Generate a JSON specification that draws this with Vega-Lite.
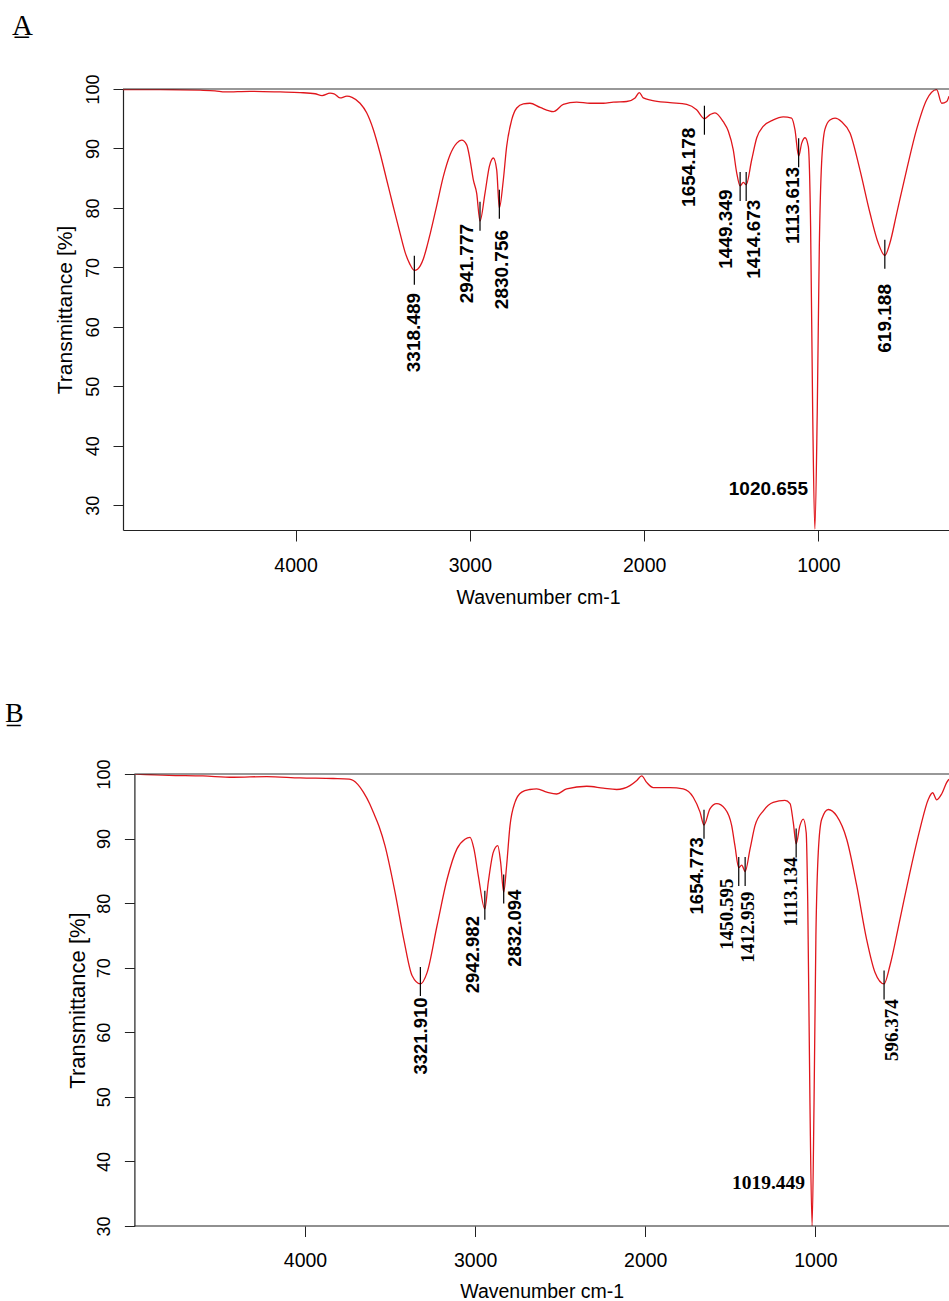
{
  "$schema": "https://vega.github.io/schema/vega-lite/v6.json",
  "autosize": {"type": "none"},
  "padding": {"left": 123, "top": 89, "right": 830, "bottom": 1215},
  "background": "white",
  "config": {
    "view": {"stroke": null},
    "font": "Liberation Sans",
    "axis": {"grid": false, "domainColor": "#222", "domainWidth": 1.2, "tickColor": "#222", "tickWidth": 1, "labelColor": "black", "titleColor": "black", "titleFontWeight": "normal", "labelOverlap": false, "labelFlush": false}
  },
  "datasets": {
    "specA": [
      {"wn": 4990, "T": 99.9}, {"wn": 4777, "T": 99.9}, {"wn": 4548, "T": 99.8}, {"wn": 4462, "T": 99.7}, {"wn": 4404, "T": 99.5},
      {"wn": 4261, "T": 99.6}, {"wn": 4089, "T": 99.5}, {"wn": 3974, "T": 99.4}, {"wn": 3888, "T": 99.2}, {"wn": 3848, "T": 98.9},
      {"wn": 3802, "T": 99.3}, {"wn": 3779, "T": 99.2}, {"wn": 3745, "T": 98.5}, {"wn": 3705, "T": 98.8}, {"wn": 3676, "T": 98.6},
      {"wn": 3630, "T": 97.6}, {"wn": 3592, "T": 96.0}, {"wn": 3554, "T": 93.2}, {"wn": 3515, "T": 89.2}, {"wn": 3477, "T": 84.7},
      {"wn": 3439, "T": 80.2}, {"wn": 3401, "T": 75.8}, {"wn": 3370, "T": 72.4}, {"wn": 3345, "T": 70.6}, {"wn": 3318.5, "T": 69.5},
      {"wn": 3300, "T": 69.7}, {"wn": 3284, "T": 70.3}, {"wn": 3266, "T": 71.5}, {"wn": 3248, "T": 73.3}, {"wn": 3228, "T": 75.6},
      {"wn": 3190, "T": 80.4}, {"wn": 3152, "T": 85.3},
      {"wn": 3114, "T": 88.9}, {"wn": 3075, "T": 90.9}, {"wn": 3047, "T": 91.4}, {"wn": 3018, "T": 90.6}, {"wn": 2999, "T": 88.1},
      {"wn": 2980, "T": 84.7}, {"wn": 2961, "T": 82.5}, {"wn": 2941.8, "T": 77.8}, {"wn": 2913, "T": 82.5}, {"wn": 2888, "T": 87.0},
      {"wn": 2865, "T": 88.4}, {"wn": 2846, "T": 86.4}, {"wn": 2830.8, "T": 80.0}, {"wn": 2808, "T": 84.7}, {"wn": 2789, "T": 90.3},
      {"wn": 2760, "T": 94.8}, {"wn": 2731, "T": 96.8}, {"wn": 2693, "T": 97.5}, {"wn": 2655, "T": 97.6}, {"wn": 2597, "T": 96.9},
      {"wn": 2521, "T": 96.2}, {"wn": 2464, "T": 97.4}, {"wn": 2387, "T": 97.8}, {"wn": 2311, "T": 97.6}, {"wn": 2234, "T": 97.6},
      {"wn": 2177, "T": 97.8}, {"wn": 2100, "T": 97.9}, {"wn": 2052, "T": 98.5}, {"wn": 2028, "T": 99.4}, {"wn": 2005, "T": 98.5},
      {"wn": 1957, "T": 98.1}, {"wn": 1852, "T": 97.7}, {"wn": 1756, "T": 97.4}, {"wn": 1699, "T": 96.5}, {"wn": 1654.2, "T": 95.0},
      {"wn": 1622, "T": 95.7}, {"wn": 1594, "T": 96.0}, {"wn": 1546, "T": 94.5}, {"wn": 1517, "T": 92.9}, {"wn": 1489, "T": 89.8},
      {"wn": 1469, "T": 85.9}, {"wn": 1449.3, "T": 83.7}, {"wn": 1431, "T": 84.3}, {"wn": 1414.7, "T": 83.9}, {"wn": 1383, "T": 88.1},
      {"wn": 1354, "T": 91.8}, {"wn": 1317, "T": 93.7}, {"wn": 1259, "T": 94.8}, {"wn": 1202, "T": 95.3}, {"wn": 1154, "T": 95.1},
      {"wn": 1135, "T": 93.2}, {"wn": 1113.6, "T": 88.7}, {"wn": 1096, "T": 90.9}, {"wn": 1077, "T": 91.8}, {"wn": 1058, "T": 90.3},
      {"wn": 1045, "T": 76.9}, {"wn": 1033, "T": 45.5}, {"wn": 1020.7, "T": 26.0}, {"wn": 1007, "T": 45.5}, {"wn": 995, "T": 73.5},
      {"wn": 982, "T": 87.5}, {"wn": 963, "T": 93.2}, {"wn": 934, "T": 94.8}, {"wn": 905, "T": 95.1}, {"wn": 867, "T": 94.5},
      {"wn": 819, "T": 92.6}, {"wn": 762, "T": 86.4}, {"wn": 704, "T": 79.1}, {"wn": 657, "T": 74.1}, {"wn": 619.2, "T": 72.0},
      {"wn": 590, "T": 74.1}, {"wn": 551, "T": 79.1}, {"wn": 494, "T": 86.4}, {"wn": 437, "T": 93.2}, {"wn": 379, "T": 98.2},
      {"wn": 322, "T": 99.9}, {"wn": 293, "T": 97.6}, {"wn": 264, "T": 97.9}, {"wn": 251, "T": 98.8}
    ],
    "specB": [
      {"wn": 5000, "T": 100.0}, {"wn": 4800, "T": 99.8}, {"wn": 4600, "T": 99.7}, {"wn": 4423, "T": 99.5}, {"wn": 4225, "T": 99.6},
      {"wn": 4029, "T": 99.4}, {"wn": 3834, "T": 99.3}, {"wn": 3740, "T": 99.2}, {"wn": 3716, "T": 99.0}, {"wn": 3690, "T": 98.4},
      {"wn": 3657, "T": 97.2}, {"wn": 3620, "T": 95.4}, {"wn": 3599, "T": 94.1}, {"wn": 3565, "T": 91.9},
      {"wn": 3530, "T": 88.9}, {"wn": 3471, "T": 81.7}, {"wn": 3418, "T": 74.2}, {"wn": 3371, "T": 68.8},
      {"wn": 3321.9, "T": 67.5}, {"wn": 3283, "T": 69.2}, {"wn": 3224, "T": 76.5}, {"wn": 3165, "T": 83.7}, {"wn": 3107, "T": 88.4},
      {"wn": 3060, "T": 89.9}, {"wn": 3030, "T": 90.2}, {"wn": 3007, "T": 88.4}, {"wn": 2981, "T": 84.2}, {"wn": 2943.0, "T": 79.1},
      {"wn": 2923, "T": 83.2}, {"wn": 2893, "T": 87.9}, {"wn": 2867, "T": 88.9}, {"wn": 2850, "T": 86.3}, {"wn": 2832.1, "T": 81.7},
      {"wn": 2815, "T": 85.8}, {"wn": 2795, "T": 92.0}, {"wn": 2766, "T": 95.6}, {"wn": 2726, "T": 97.2}, {"wn": 2678, "T": 97.6},
      {"wn": 2638, "T": 97.7}, {"wn": 2579, "T": 97.2}, {"wn": 2521, "T": 96.9}, {"wn": 2462, "T": 97.7}, {"wn": 2344, "T": 98.1},
      {"wn": 2247, "T": 97.8}, {"wn": 2168, "T": 97.6}, {"wn": 2090, "T": 98.2}, {"wn": 2050, "T": 99.0}, {"wn": 2021, "T": 99.7},
      {"wn": 1992, "T": 98.7}, {"wn": 1953, "T": 97.9}, {"wn": 1855, "T": 97.9}, {"wn": 1777, "T": 97.7}, {"wn": 1718, "T": 96.4},
      {"wn": 1678, "T": 94.1}, {"wn": 1654.8, "T": 92.1}, {"wn": 1620, "T": 94.6}, {"wn": 1580, "T": 95.4}, {"wn": 1531, "T": 94.6},
      {"wn": 1492, "T": 92.0}, {"wn": 1473, "T": 88.9}, {"wn": 1450.6, "T": 85.5}, {"wn": 1433, "T": 85.9}, {"wn": 1413.0, "T": 84.9},
      {"wn": 1384, "T": 88.4}, {"wn": 1355, "T": 92.0}, {"wn": 1306, "T": 94.3}, {"wn": 1248, "T": 95.6}, {"wn": 1179, "T": 95.9},
      {"wn": 1149, "T": 95.4}, {"wn": 1130, "T": 92.5}, {"wn": 1113.1, "T": 89.2}, {"wn": 1091, "T": 92.0}, {"wn": 1071, "T": 93.0},
      {"wn": 1054, "T": 90.9}, {"wn": 1045, "T": 80.1}, {"wn": 1032, "T": 49.1}, {"wn": 1019.4, "T": 30.0}, {"wn": 1008, "T": 49.1},
      {"wn": 997, "T": 74.9}, {"wn": 983, "T": 87.9}, {"wn": 963, "T": 93.0}, {"wn": 924, "T": 94.5}, {"wn": 875, "T": 93.5},
      {"wn": 816, "T": 89.9}, {"wn": 757, "T": 82.7}, {"wn": 699, "T": 74.4}, {"wn": 650, "T": 69.3}, {"wn": 596.4, "T": 67.5},
      {"wn": 562, "T": 70.3}, {"wn": 503, "T": 77.5}, {"wn": 444, "T": 84.8}, {"wn": 385, "T": 91.5}, {"wn": 336, "T": 96.1},
      {"wn": 311, "T": 97.1}, {"wn": 287, "T": 96.0}, {"wn": 258, "T": 96.9}, {"wn": 228, "T": 98.7}, {"wn": 215, "T": 99.2}
    ],
    "peaksA": [
      {"wn": 3318.489, "mT": 69.5, "label": "3318.489", "lx": 3318.5, "ly": 65.7},
      {"wn": 2941.777, "mT": 78.6, "label": "2941.777", "lx": 3017.5, "ly": 77.3},
      {"wn": 2830.756, "mT": 80.6, "label": "2830.756", "lx": 2818, "ly": 76.3},
      {"wn": 1654.178, "mT": 94.75, "label": "1654.178", "lx": 1740, "ly": 93.5},
      {"wn": 1449.349, "mT": 83.6, "label": "1449.349", "lx": 1531, "ly": 83.1},
      {"wn": 1414.673, "mT": 83.6, "label": "1414.673", "lx": 1372, "ly": 81.4},
      {"wn": 1113.613, "mT": 89.3, "label": "1113.613", "lx": 1144, "ly": 86.9},
      {"wn": 619.188, "mT": 72.2, "label": "619.188", "lx": 619.2, "ly": 67.2}
    ],
    "bigA": [{"label": "1020.655", "lx": 1060, "ly": 31.7}],
    "peaksBsans": [
      {"wn": 3321.910, "mT": 67.85, "label": "3321.910", "lx": 3318, "ly": 65.4},
      {"wn": 2942.982, "mT": 79.67, "label": "2942.982", "lx": 3012, "ly": 78.0},
      {"wn": 2832.094, "mT": 82.2, "label": "2832.094", "lx": 2765, "ly": 82.1},
      {"wn": 1654.773, "mT": 92.2, "label": "1654.773", "lx": 1693, "ly": 90.2}
    ],
    "peaksBserif": [
      {"wn": 1450.595, "mT": 84.9, "label": "1450.595", "lx": 1519, "ly": 83.8},
      {"wn": 1412.959, "mT": 84.9, "label": "1412.959", "lx": 1398, "ly": 81.8},
      {"wn": 1113.134, "mT": 89.3, "label": "1113.134", "lx": 1144, "ly": 87.1},
      {"wn": 596.374, "mT": 67.33, "label": "596.374", "lx": 551, "ly": 65.1}
    ],
    "bigB": [{"label": "1019.449", "lx": 1061, "ly": 35.8}]
  },
  "spacing": 93,
  "vconcat": [
    {
      "width": 826,
      "height": 441,
      "title": {"text": "A\u0332", "font": "Liberation Serif", "fontSize": 29, "fontWeight": "normal", "color": "black", "anchor": "start", "frame": "group", "dx": -111, "offset": 10, "baseline": "alphabetic"},
      "layer": [
        {
          "data": {"name": "specA"},
          "mark": {"type": "line", "color": "#e0161c", "strokeWidth": 1.3, "clip": true, "interpolate": "monotone"},
          "encoding": {
            "x": {"field": "wn", "type": "quantitative", "scale": {"domain": [4990, 251], "nice": false, "zero": false},
              "axis": {"title": "Wavenumber cm-1", "values": [4000, 3000, 2000, 1000], "format": "d", "tickSize": 11, "labelFont": "Liberation Sans", "labelFontSize": 19.5, "labelBaseline": "alphabetic", "labelPadding": 30.7, "titleFont": "Liberation Sans", "titleFontSize": 19.5, "titleBaseline": "alphabetic", "titleX": 415, "titleY": 73.3}},
            "y": {"field": "T", "type": "quantitative", "scale": {"domain": [25.84, 100], "nice": false, "zero": false},
              "axis": {"title": "Transmittance [%]", "values": [30, 40, 50, 60, 70, 80, 90, 100], "tickSize": 10, "labelAngle": -90, "labelAlign": "center", "labelBaseline": "alphabetic", "labelFontSize": 18, "labelPadding": 14.3, "titleFontSize": 21, "titleAngle": -90, "titleAlign": "center", "titleBaseline": "alphabetic", "titleX": -51.3, "titleY": 220.5}}
          }
        },
        {
          "data": {"values": [{}]},
          "mark": {"type": "rule", "color": "#333", "strokeWidth": 1.2},
          "encoding": {"y": {"datum": 100}}
        },
        {
          "data": {"name": "peaksA"},
          "mark": {"type": "tick", "orient": "vertical", "size": 29, "thickness": 1.2, "color": "black", "opacity": 1},
          "encoding": {"x": {"field": "wn", "type": "quantitative"}, "y": {"field": "mT", "type": "quantitative"}}
        },
        {
          "data": {"name": "peaksA"},
          "mark": {"type": "text", "angle": -90, "align": "right", "baseline": "middle", "font": "Liberation Sans", "fontWeight": "bold", "fontSize": 19, "color": "black"},
          "encoding": {"x": {"field": "lx", "type": "quantitative"}, "y": {"field": "ly", "type": "quantitative"}, "text": {"field": "label"}}
        },
        {
          "data": {"name": "bigA"},
          "mark": {"type": "text", "align": "right", "baseline": "alphabetic", "font": "Liberation Sans", "fontWeight": "bold", "fontSize": 19, "color": "black"},
          "encoding": {"x": {"field": "lx", "type": "quantitative"}, "y": {"field": "ly", "type": "quantitative"}, "text": {"field": "label"}}
        }
      ]
    },
    {
      "width": 826,
      "height": 452,
      "title": {"text": "B\u0332", "font": "Liberation Serif", "fontSize": 28, "fontWeight": "normal", "color": "black", "anchor": "start", "frame": "group", "dx": -118, "offset": 8.5, "baseline": "alphabetic"},
      "layer": [
        {
          "data": {"name": "specB"},
          "mark": {"type": "line", "color": "#e0161c", "strokeWidth": 1.3, "clip": true, "interpolate": "monotone"},
          "encoding": {
            "x": {"field": "wn", "type": "quantitative", "scale": {"domain": [5069.8, 214.7], "nice": false, "zero": false},
              "axis": {"title": "Wavenumber cm-1", "values": [4000, 3000, 2000, 1000], "format": "d", "domain": false, "tickSize": 10.5, "labelFont": "Liberation Sans", "labelFontSize": 19.5, "labelBaseline": "alphabetic", "labelPadding": 29.5, "titleFont": "Liberation Sans", "titleFontSize": 19.5, "titleBaseline": "alphabetic", "titleX": 418.7, "titleY": 71.6}},
            "y": {"field": "T", "type": "quantitative", "scale": {"domain": [30, 100], "nice": false, "zero": false},
              "axis": {"title": "Transmittance [%]", "offset": -11.4, "values": [30, 40, 50, 60, 70, 80, 90, 100], "tickSize": 10, "labelAngle": -90, "labelAlign": "center", "labelBaseline": "alphabetic", "labelFontSize": 18, "labelPadding": 14.4, "titleFontSize": 22, "titleAngle": -90, "titleAlign": "center", "titleBaseline": "alphabetic", "titleX": -49.4, "titleY": 226}}
          }
        },
        {
          "data": {"values": [{}]},
          "mark": {"type": "rule", "color": "#333", "strokeWidth": 1.2},
          "encoding": {"x": {"datum": 5003}, "x2": {"datum": 200}, "y": {"datum": 100}}
        },
        {
          "data": {"values": [{}]},
          "mark": {"type": "rule", "color": "#222", "strokeWidth": 1.2},
          "encoding": {"x": {"datum": 5003}, "x2": {"datum": 200}, "y": {"datum": 30}}
        },
        {
          "data": {"name": "peaksBsans"},
          "mark": {"type": "tick", "orient": "vertical", "size": 29, "thickness": 1.2, "color": "black", "opacity": 1},
          "encoding": {"x": {"field": "wn", "type": "quantitative"}, "y": {"field": "mT", "type": "quantitative"}}
        },
        {
          "data": {"name": "peaksBserif"},
          "mark": {"type": "tick", "orient": "vertical", "size": 29, "thickness": 1.2, "color": "black", "opacity": 1},
          "encoding": {"x": {"field": "wn", "type": "quantitative"}, "y": {"field": "mT", "type": "quantitative"}}
        },
        {
          "data": {"name": "peaksBsans"},
          "mark": {"type": "text", "angle": -90, "align": "right", "baseline": "middle", "font": "Liberation Sans", "fontWeight": "bold", "fontSize": 18.5, "color": "black"},
          "encoding": {"x": {"field": "lx", "type": "quantitative"}, "y": {"field": "ly", "type": "quantitative"}, "text": {"field": "label"}}
        },
        {
          "data": {"name": "peaksBserif"},
          "mark": {"type": "text", "angle": -90, "align": "right", "baseline": "middle", "font": "Liberation Serif", "fontWeight": "bold", "fontSize": 19, "color": "black"},
          "encoding": {"x": {"field": "lx", "type": "quantitative"}, "y": {"field": "ly", "type": "quantitative"}, "text": {"field": "label"}}
        },
        {
          "data": {"name": "bigB"},
          "mark": {"type": "text", "align": "right", "baseline": "alphabetic", "font": "Liberation Serif", "fontWeight": "bold", "fontSize": 19.5, "color": "black"},
          "encoding": {"x": {"field": "lx", "type": "quantitative"}, "y": {"field": "ly", "type": "quantitative"}, "text": {"field": "label"}}
        }
      ]
    }
  ]
}
